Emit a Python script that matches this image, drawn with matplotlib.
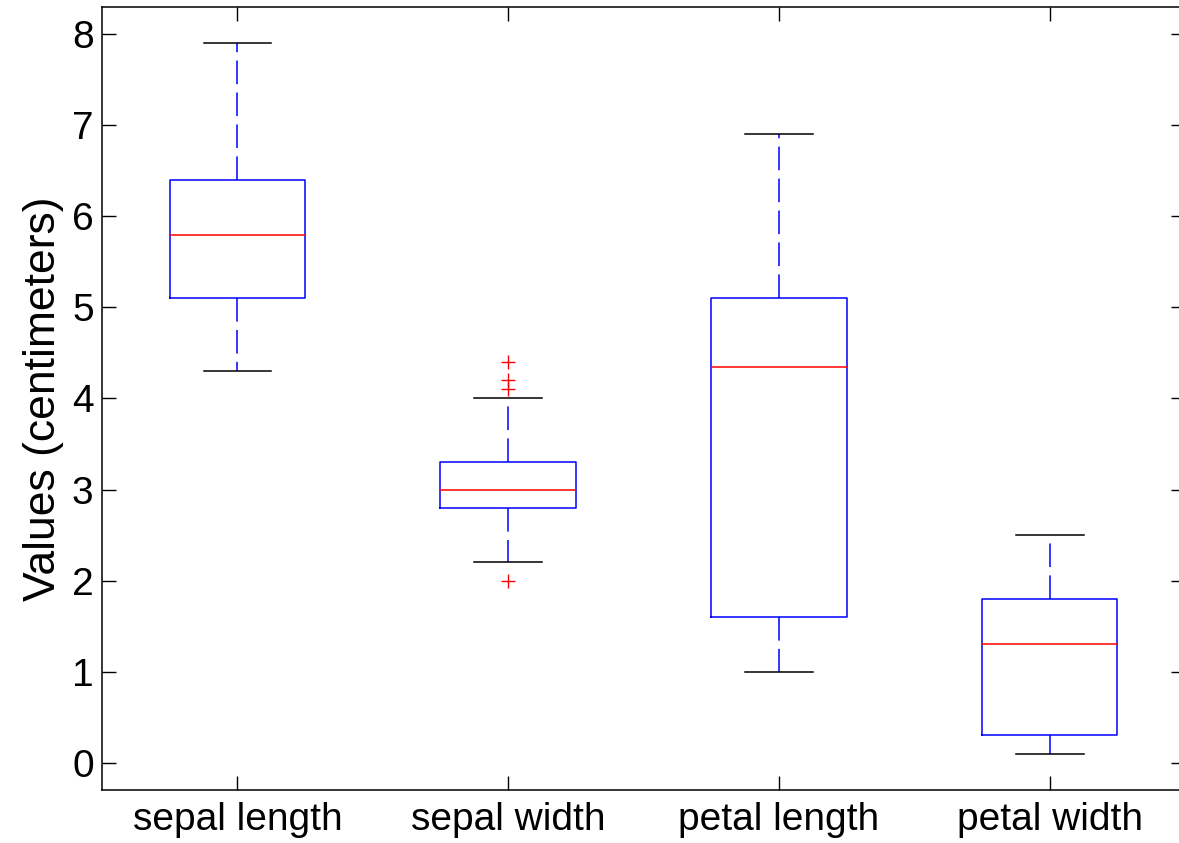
import matplotlib.pyplot as plt

plt.rcParams['font.family'] = ['Liberation Sans', 'DejaVu Sans']
plt.rcParams['lines.scale_dashes'] = False

labels = ['sepal length', 'sepal width', 'petal length', 'petal width']
whislo = [4.3, 2.2, 1.0, 0.1]
q1 = [5.1, 2.8, 1.6, 0.3]
med = [5.8, 3.0, 4.35, 1.3]
q3 = [6.4, 3.3, 5.1, 1.8]
whishi = [7.9, 4.0, 6.9, 2.5]
fliers = [[], [2.0, 4.1, 4.2, 4.4], [], []]

stats = []
for i in range(len(labels)):
    stats.append({'label': labels[i], 'whislo': whislo[i], 'q1': q1[i], 'med': med[i],
                  'q3': q3[i], 'whishi': whishi[i], 'fliers': fliers[i]})

fig = plt.figure(figsize=(11.79, 8.43), dpi=100)
ax = fig.add_axes([0.0865, 0.0629, 0.9187, 0.9288])

ax.bxp(stats, positions=[1, 2, 3, 4], widths=0.5, capwidths=0.25,
       boxprops=dict(color='blue', linewidth=1.1),
       medianprops=dict(color='red', linewidth=1.1),
       whiskerprops=dict(color='blue', linewidth=1.1, linestyle=(0, (17, 6))),
       capprops=dict(color='black', linewidth=1.1),
       flierprops=dict(marker='+', markeredgecolor='red', markersize=10, linestyle='none'))

ax.set_xlim(0.5, 4.5)
ax.set_ylim(-0.3, 8.3)
ax.set_yticks(range(0, 9))
ax.set_ylabel('Values (centimeters)', fontsize=32, labelpad=6)
ax.tick_params(direction='in', top=True, right=True, length=10, width=1, labelsize=28)
ax.tick_params(axis='y', pad=6)
ax.tick_params(axis='x', pad=9)
for s in ax.spines.values():
    s.set_linewidth(1.1)

fig.savefig('out.png', dpi=100)
